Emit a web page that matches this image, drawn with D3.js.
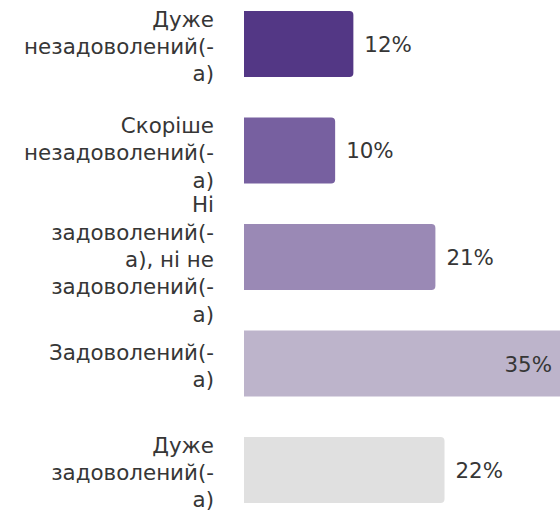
<!DOCTYPE html>
<html>
<head>
<meta charset="utf-8">
<script src="https://cdn.jsdelivr.net/npm/d3@7"></script>
<style>
  html, body { margin: 0; padding: 0; background: #fff; }
  svg { display: block; }
  text { font-family: "DejaVu Sans", Verdana, sans-serif; fill: #363636; }
</style>
</head>
<body>
<svg id="chart" width="560" height="514"></svg>
<script>
// Satisfaction answers, top to bottom
const categories = [
  "Дуже незадоволений(-а)",
  "Скоріше незадоволений(-а)",
  "Ні задоволений(-а), ні не задоволений(-а)",
  "Задоволений(-а)",
  "Дуже задоволений(-а)"
];
// how each answer wraps in the narrow label column
const categoryLines = [
  ["Дуже", "незадоволений(-", "а)"],
  ["Скоріше", "незадоволений(-", "а)"],
  ["Ні", "задоволений(-", "а), ні не", "задоволений(-", "а)"],
  ["Задоволений(-", "а)"],
  ["Дуже", "задоволений(-", "а)"]
];
const shares = [12, 10, 21, 35, 22];
const barColors = ["#533785", "#7760a0", "#9a89b5", "#bdb4cb", "#e0e0e0"];

const W = 560, H = 514;
const plotLeft = 244;
const labelRight = 214;
const fontSize = 21.4;
const lineH = 27.3;

const svg = d3.select("#chart");

const x = d3.scaleLinear().domain([0, 35]).range([plotLeft, plotLeft + 319]);
const y = d3.scaleBand()
  .domain(categories)
  .range([0, H])
  .paddingInner(0.38)
  .paddingOuter(0.103);

// bar path with rounded right-hand corners only
function barPath(x0, y0, w, h, r) {
  r = Math.min(r, w / 2, h / 2);
  return `M${x0},${y0}H${x0 + w - r}Q${x0 + w},${y0} ${x0 + w},${y0 + r}` +
         `V${y0 + h - r}Q${x0 + w},${y0 + h} ${x0 + w - r},${y0 + h}H${x0}Z`;
}

const rows = svg.selectAll("g.row")
  .data(categories.map((c, i) => ({
    cat: c, lines: categoryLines[i], v: shares[i], color: barColors[i]
  })))
  .join("g").attr("class", "row");

rows.append("path")
  .attr("d", d => barPath(x(0), y(d.cat), x(d.v) - x(0), y.bandwidth(), 4))
  .attr("fill", d => d.color);

// value labels: outside the bar, or inside when the bar reaches the edge
const fits = d => x(d.v) + 65 <= W;
rows.append("text")
  .attr("font-size", fontSize)
  .attr("y", d => y(d.cat) + y.bandwidth() / 2 + 8)
  .attr("x", d => fits(d) ? x(d.v) + 11 : W - 8)
  .attr("text-anchor", d => fits(d) ? "start" : "end")
  .text(d => d.v + "%");

// category labels, right-aligned against the bars
rows.append("text")
  .attr("font-size", fontSize)
  .attr("text-anchor", "end")
  .each(function (d) {
    const t = d3.select(this);
    const cy = y(d.cat) + y.bandwidth() / 2;
    const first = cy - (d.lines.length - 1) * lineH / 2 + 10;
    d.lines.forEach((ln, i) => {
      t.append("tspan").attr("x", labelRight).attr("y", first + i * lineH).text(ln);
    });
  });
</script>
</body>
</html>
